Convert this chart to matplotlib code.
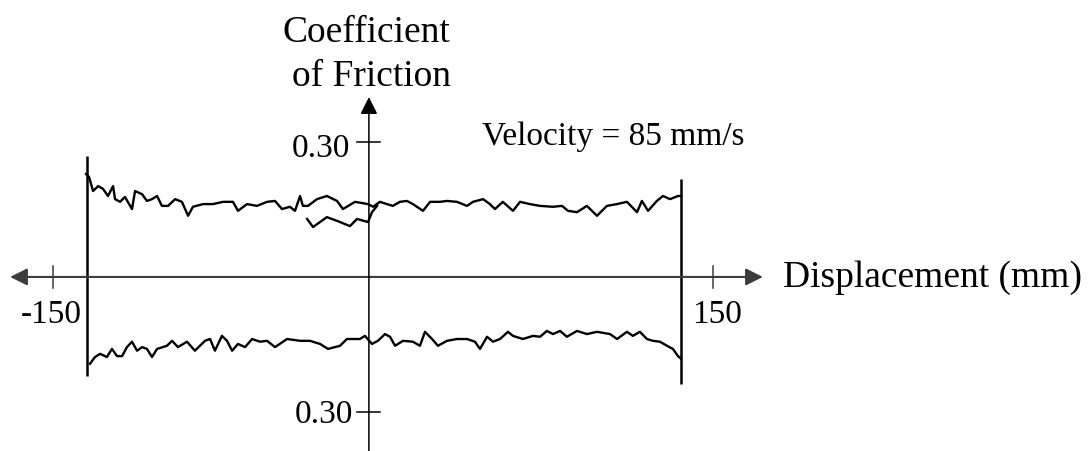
import matplotlib
matplotlib.use("Agg")
import matplotlib.pyplot as plt

plt.rcParams['font.family'] = ['Liberation Serif', 'DejaVu Serif']

# return stroke (upper trace), displacement in mm and friction coefficient
upper_disp = [-135.0, -133.6, -131.8, -129.5, -127.3, -125.0, -122.7, -121.8, -119.5, -117.3,
              -114.1, -112.7, -109.5, -107.3, -105.0, -102.7, -100.5, -97.7, -94.5, -91.4,
              -88.6, -86.4, -81.8, -77.3, -72.7, -68.2, -65.9, -61.8, -57.3, -52.7,
              -49.1, -45.9, -42.3, -40.0, -37.7, -36.4, -34.1, -30.0, -25.5, -20.9,
              -18.2, -12.7, -6.8, -4.5, -1.4, 1.8, 4.5, 7.7, 10.9, 13.6,
              18.2, 21.4, 25.9, 29.1, 33.6, 38.2, 40.9, 45.5, 48.6, 50.9,
              54.5, 59.1, 62.3, 66.8, 71.4, 77.3, 81.4, 84.1, 88.2, 92.7,
              97.3, 101.8, 106.4, 110.9, 115.5, 117.7, 120.5, 124.5, 127.3, 130.5,
              134.1, 135.5]
upper_mu = [0.229, 0.222, 0.191, 0.202, 0.196, 0.180, 0.202, 0.173, 0.167, 0.178,
            0.151, 0.191, 0.184, 0.169, 0.173, 0.180, 0.158, 0.158, 0.173, 0.167,
            0.136, 0.156, 0.162, 0.162, 0.167, 0.167, 0.147, 0.162, 0.158, 0.167,
            0.169, 0.151, 0.156, 0.147, 0.180, 0.158, 0.158, 0.173, 0.180, 0.169,
            0.151, 0.167, 0.162, 0.156, 0.167, 0.162, 0.158, 0.167, 0.169, 0.162,
            0.147, 0.167, 0.167, 0.169, 0.167, 0.158, 0.167, 0.173, 0.162, 0.151,
            0.167, 0.147, 0.167, 0.162, 0.158, 0.156, 0.158, 0.147, 0.144, 0.158,
            0.136, 0.158, 0.162, 0.167, 0.144, 0.169, 0.147, 0.169, 0.180, 0.173,
            0.180, 0.180]

# start of the test, from the middle before it joins the upper trace
start_disp = [-34.5, -31.8, -25.5, -20.5, -15.0, -11.8, -6.8, -5.0, -2.7]
start_mu = [0.129, 0.111, 0.133, 0.124, 0.113, 0.129, 0.122, 0.144, 0.158]

# forward stroke (lower trace)
lower_disp = [-133.2, -130.9, -128.6, -125.5, -123.2, -120.9, -118.6, -116.4, -114.1, -111.8,
              -109.5, -107.3, -105.0, -102.7, -98.2, -95.9, -93.2, -89.1, -85.5, -80.9,
              -78.6, -76.4, -73.2, -70.9, -68.6, -65.9, -62.7, -59.5, -55.9, -52.7,
              -49.1, -43.6, -37.7, -33.2, -28.6, -25.0, -19.5, -16.4, -10.5, -8.2,
              -5.0, -2.3, 0.9, 3.2, 5.5, 9.1, 13.6, 16.8, 19.1, 22.3,
              25.0, 29.1, 33.6, 38.2, 41.8, 44.1, 47.3, 50.0, 53.2, 56.8,
              59.1, 63.6, 68.2, 71.4, 74.5, 77.3, 80.5, 83.6, 88.2, 92.7,
              97.3, 103.2, 106.4, 110.9, 113.6, 116.8, 120.0, 122.7, 125.9, 129.1,
              131.8, 134.1, 135.5]
lower_mu = [-0.193, -0.178, -0.171, -0.178, -0.160, -0.176, -0.176, -0.156, -0.144, -0.164,
            -0.156, -0.160, -0.178, -0.160, -0.153, -0.142, -0.156, -0.144, -0.164, -0.142,
            -0.138, -0.164, -0.131, -0.142, -0.164, -0.149, -0.156, -0.138, -0.144, -0.142,
            -0.156, -0.138, -0.142, -0.142, -0.149, -0.160, -0.153, -0.138, -0.138, -0.131,
            -0.149, -0.142, -0.127, -0.133, -0.153, -0.142, -0.144, -0.153, -0.122, -0.138,
            -0.153, -0.142, -0.138, -0.138, -0.144, -0.160, -0.133, -0.144, -0.138, -0.122,
            -0.131, -0.138, -0.131, -0.133, -0.120, -0.127, -0.120, -0.133, -0.120, -0.127,
            -0.122, -0.127, -0.138, -0.122, -0.131, -0.122, -0.138, -0.142, -0.144, -0.153,
            -0.160, -0.176, -0.182]

# reversal jumps at the stroke ends: position, top, bottom
wall_disp = [-134.5, 135.5]
wall_top = [0.269, 0.218]
wall_bottom = [-0.220, -0.238]

tick_disp = [-150, 150]
tick_mu = [0.30, -0.30]
yaxis_at = -6.4

fig = plt.figure(figsize=(10.88, 4.52), dpi=100)
ax = fig.add_axes([0, 0, 1, 1])
ax.set_xlim(-174.1, 320.5)
ax.set_ylim(-0.387, 0.618)
ax.axis('off')

# axes with arrow heads
ax.annotate('', xy=(172.7, 0), xytext=(-169.5, 0),
            arrowprops=dict(arrowstyle='<|-|>', mutation_scale=26, color='#3c3c3c',
                            lw=1.5, shrinkA=0, shrinkB=0))
ax.annotate('', xy=(yaxis_at, 0.40), xytext=(yaxis_at, -0.39),
            arrowprops=dict(arrowstyle='-|>', mutation_scale=26, color='black',
                            lw=1.1, shrinkA=0, shrinkB=0))

for d in tick_disp:
    ax.plot([d, d], [-0.024, 0.024], color='#3c3c3c', lw=1.1)
for m in tick_mu:
    ax.plot([yaxis_at - 5.2, yaxis_at + 5.2], [m, m], color='black', lw=1.1)

# traces
ax.plot(upper_disp, upper_mu, color='black', lw=1.7)
ax.plot(start_disp, start_mu, color='black', lw=1.7)
ax.plot(lower_disp, lower_mu, color='black', lw=1.7)
ax.vlines(wall_disp, wall_bottom, wall_top, color='black', lw=1.8)

# labels
ax.text(-136.8, -0.10, '-150', fontsize=24, ha='right', va='baseline')
ax.text(140.5, -0.10, '150', fontsize=24, ha='left', va='baseline')
ax.text(-15.0, 0.269, '0.30', fontsize=24, ha='right', va='baseline')
ax.text(-13.6, -0.322, '0.30', fontsize=24, ha='right', va='baseline')
ax.text(45.0, 0.296, 'Velocity = 85 mm/s', fontsize=24, ha='left', va='baseline')
ax.text(181.8, 0.0, 'Displacement (mm)', fontsize=27, ha='left', va='center')
ax.text(-7.5, 0.524, 'Coefficient', fontsize=27, ha='center', va='baseline')
ax.text(-5.2, 0.427, 'of Friction', fontsize=27, ha='center', va='baseline')

fig.savefig('out.png', dpi=100)
